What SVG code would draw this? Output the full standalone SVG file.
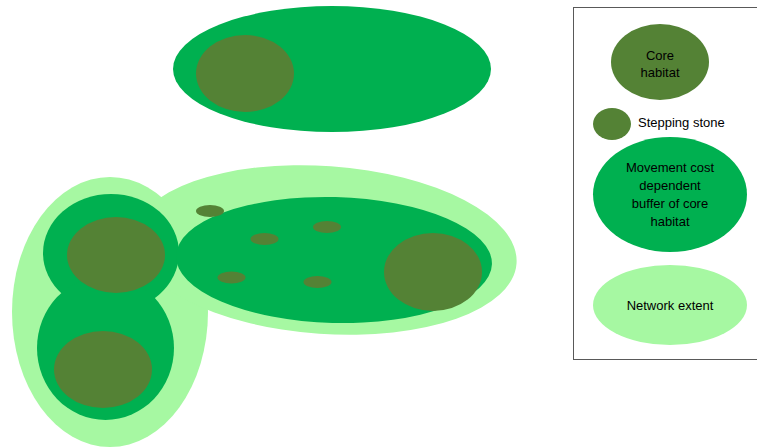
<svg xmlns="http://www.w3.org/2000/svg" width="757" height="448" viewBox="0 0 757 448">
<style>
.core{fill:#548235}
.buf{fill:#00B050}
.net{fill:#A6F8A2}
.lbl{font-family:"Liberation Sans",Arial,sans-serif;font-size:13px;fill:#000}
.mid{text-anchor:middle}
</style>
<rect width="757" height="448" fill="#ffffff"/>
<g id="top-patch">
<ellipse class="buf" cx="332" cy="69" rx="159" ry="63"/>
<ellipse class="core" cx="245" cy="73.5" rx="49" ry="38.5"/>
</g>
<g id="network">
<ellipse class="net" cx="110" cy="312" rx="98" ry="135"/>
<ellipse class="net" cx="325" cy="250" rx="192" ry="84" transform="rotate(4 325 250)"/>
</g>
<g id="buffers">
<ellipse class="buf" cx="111" cy="253" rx="68" ry="59"/>
<ellipse class="buf" cx="105.5" cy="348" rx="68.5" ry="72"/>
<ellipse class="buf" cx="334" cy="260" rx="158" ry="63" transform="rotate(1.5 334 260)"/>
</g>
<g id="cores">
<ellipse class="core" cx="116" cy="255" rx="49" ry="38"/>
<ellipse class="core" cx="103" cy="369.5" rx="49" ry="38.5"/>
<ellipse class="core" cx="433" cy="272" rx="49" ry="39"/>
</g>
<g id="stepping-stones">
<ellipse class="core" cx="210" cy="211" rx="14" ry="6"/>
<ellipse class="core" cx="264.5" cy="239" rx="14" ry="6"/>
<ellipse class="core" cx="327" cy="227" rx="14" ry="6"/>
<ellipse class="core" cx="231.5" cy="277.5" rx="14" ry="6"/>
<ellipse class="core" cx="317.5" cy="282" rx="14" ry="6"/>
</g>
<g id="legend">
<rect x="573.5" y="7.5" width="200" height="352" fill="none" stroke="#595959" stroke-width="1"/>
<g id="legend-core">
<ellipse class="core" cx="660" cy="62" rx="49" ry="38"/>
<text class="lbl mid" x="660" y="60">Core</text>
<text class="lbl mid" x="660" y="77">habitat</text>
</g>
<g id="legend-stepping">
<ellipse class="core" cx="612" cy="124" rx="19" ry="16"/>
<text class="lbl" x="638" y="127">Stepping stone</text>
</g>
<g id="legend-buffer">
<ellipse class="buf" cx="670" cy="194.5" rx="77" ry="57.5"/>
<text class="lbl mid" x="670" y="172">Movement cost</text>
<text class="lbl mid" x="670" y="190">dependent</text>
<text class="lbl mid" x="670" y="208">buffer of core</text>
<text class="lbl mid" x="670" y="226">habitat</text>
</g>
<g id="legend-network">
<ellipse class="net" cx="670" cy="305" rx="77" ry="40"/>
<text class="lbl mid" x="670" y="309.5">Network extent</text>
</g>
</g>
</svg>
